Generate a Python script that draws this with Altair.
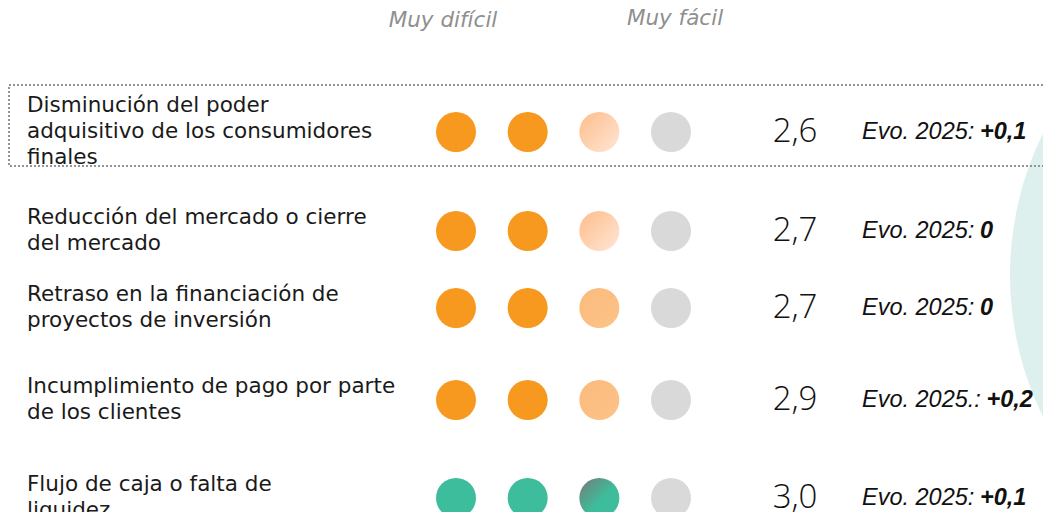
import altair as alt
import pandas as pd

# ---------------- data ----------------
labels = [
    "Disminución del poder\nadquisitivo de los consumidores\nfinales",
    "Reducción del mercado o cierre\ndel mercado",
    "Retraso en la financiación de\nproyectos de inversión",
    "Incumplimiento de pago por parte\nde los clientes",
    "Flujo de caja o falta de\nliquidez",
]
scores = [2.6, 2.7, 2.7, 2.9, 3.0]
evo_prefix = ["Evo. 2025:", "Evo. 2025:", "Evo. 2025:", "Evo. 2025.:", "Evo. 2025:"]
evo_values = ["+0,1", "0", "0", "+0,2", "+0,1"]
dot_states = [
    ["full", "full", "pale", "empty"],
    ["full", "full", "pale", "empty"],
    ["full", "full", "half", "empty"],
    ["full", "full", "half", "empty"],
    ["full", "full", "half", "empty"],
]
themes = ["orange", "orange", "orange", "orange", "green"]
headers = ["Muy difícil", "Muy fácil"]

# ---------------- tables ----------------
rows_df = pd.DataFrame({
    "row": list(range(1, len(labels) + 1)),
    "label": labels,
    "nlines": [l.count("\n") + 1 for l in labels],
    "score_txt": [f"{s:.1f}".replace(".", ",") for s in scores],
    "evo_prefix": evo_prefix,
    "evo_value": evo_values,
})

dots = []
for i, (states, theme) in enumerate(zip(dot_states, themes)):
    for j, st in enumerate(states):
        style = "empty" if st == "empty" else f"{theme}-{st}"
        dots.append({"row": i + 1, "level": j + 1, "style": style})
dots_df = pd.DataFrame(dots)

hdr_df = pd.DataFrame({"row": [0, 0], "text": headers})

# ---------------- scales ----------------
y_scale = alt.Scale(domain=[0, 1, 2, 3, 4, 5], range=[12, 124, 223, 300, 392, 490],
                    nice=False, zero=False)
y_enc = alt.Y("row:Q", scale=y_scale, axis=None)
x_scale = alt.Scale(domain=[1, 4], range=[448, 663], nice=False, zero=False)
x_enc = alt.X("level:Q", scale=x_scale, axis=None)

W, H = 1035, 504
DOT = 1600

# background decoration
bg = alt.Chart(hdr_df.head(1)).mark_circle(size=640 * 640, color="#DDF0EE", opacity=1).encode(
    x=alt.value(1322), y=alt.value(267)
)

box = alt.Chart(hdr_df.head(1)).mark_rect(
    fill="transparent", stroke="#949494", strokeWidth=2, strokeDash=[2, 2]
).encode(x=alt.value(1), x2=alt.value(1100), y=alt.value(77), y2=alt.value(158))

solid_styles = ["orange-full", "green-full", "empty"]
solid_colors = ["#F7981F", "#3DBD9B", "#D9D9D9"]
solid = alt.Chart(dots_df).transform_filter(
    alt.FieldOneOfPredicate(field="style", oneOf=solid_styles)
).mark_circle(size=DOT, opacity=1).encode(
    x=x_enc, y=y_enc,
    color=alt.Color("style:N", scale=alt.Scale(domain=solid_styles, range=solid_colors), legend=None),
)

def grad(c0, c1, mid=None):
    stops = [alt.GradientStop(offset=0, color=c0)]
    if mid is not None:
        stops.append(alt.GradientStop(offset=mid, color=c1))
    stops.append(alt.GradientStop(offset=1, color=c1))
    return alt.LinearGradient(gradient="linear", stops=stops, x1=0, y1=0, x2=1, y2=1)

grad_styles = {
    "orange-pale": grad("#FDBD8A", "#FFE6D6"),
    "orange-half": grad("#FBBA7C", "#FCC388"),
    "green-half": grad("#787878", "#3DBD9B", 0.55),
}
grad_layers = []
for st, g in grad_styles.items():
    grad_layers.append(
        alt.Chart(dots_df).transform_filter(alt.datum.style == st)
        .mark_circle(size=DOT, opacity=1, fill=g).encode(x=x_enc, y=y_enc)
    )

LH = 26
label_layers = []
for n in sorted(set(rows_df["nlines"])):
    label_layers.append(
        alt.Chart(rows_df).transform_filter(alt.datum.nlines == n).mark_text(
            align="left", baseline="middle", font="DejaVu Sans", fontSize=21.5, lineHeight=LH,
            lineBreak="\n", color="#1a1a1a", dy=-(n - 1) * LH / 2
        ).encode(x=alt.value(19), y=y_enc, text="label:N")
    )

score_txt = alt.Chart(rows_df).mark_text(
    align="center", baseline="middle", font="Open Sans", fontWeight=300, fontSize=33, color="#111111"
).encode(x=alt.value(787), y=y_enc, text="score_txt:N")

EVO_FS = 23.5
evo_txt = alt.Chart(rows_df).mark_text(
    align="left", baseline="middle", font="Liberation Sans", fontStyle="italic", fontSize=EVO_FS,
    color="#111111"
).encode(x=alt.value(854), y=y_enc, text="evo_prefix:N")

# bold value follows its prefix; the prefix with an extra "." pushes it right
evo_val_layers = []
for p in sorted(set(evo_prefix)):
    extra = (len(p) - len("Evo. 2025:")) * 0.278 * EVO_FS
    evo_val_layers.append(
        alt.Chart(rows_df).transform_filter(alt.datum.evo_prefix == p).mark_text(
            align="left", baseline="middle", font="Liberation Sans", fontStyle="italic",
            fontWeight="bold", fontSize=EVO_FS, color="#111111"
        ).encode(x=alt.value(972 + extra), y=y_enc, text="evo_value:N")
    )

hdr_x = [435, 667]
hdr_dy = [1, -1]
hdr_layers = []
for t, xv, dyv in zip(headers, hdr_x, hdr_dy):
    hdr_layers.append(
        alt.Chart(hdr_df).transform_filter(alt.datum.text == t).mark_text(
            align="center", baseline="middle", font="DejaVu Sans", fontStyle="italic",
            fontSize=21.5, color="#8F8F8F", dy=dyv
        ).encode(x=alt.value(xv), y=y_enc, text="text:N")
    )

chart = alt.layer(bg, box, solid, *grad_layers, *label_layers, score_txt, evo_txt,
                  *evo_val_layers, *hdr_layers).properties(
    width=W, height=H,
    autosize=alt.AutoSizeParams(type="none"),
    padding=0,
).configure_view(stroke=None)

chart.save("out.html", embed_options={"renderer": "svg", "actions": False})
